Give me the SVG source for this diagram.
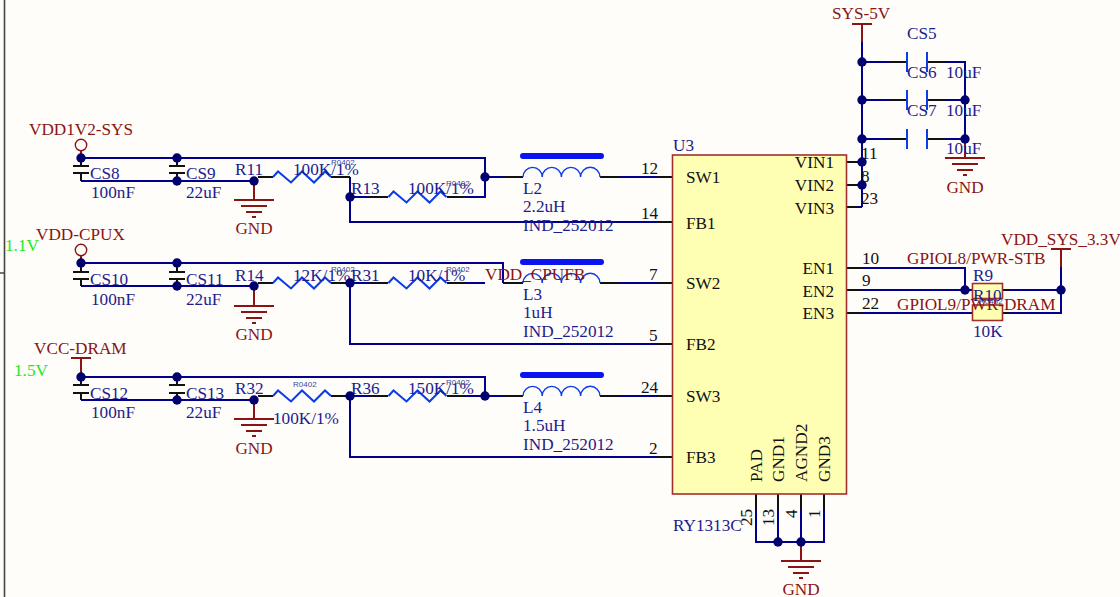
<svg xmlns="http://www.w3.org/2000/svg" width="1120" height="597" viewBox="0 0 1120 597">
<defs>
<style>
text{font-family:"Liberation Serif","Times New Roman",serif;font-size:17.2px}
.b{fill:#1c1c8e}.r{fill:#8a1414}.k{fill:#111}.g{fill:#22e822}
.s{font-family:"Liberation Sans",Arial,sans-serif;font-size:8px;fill:#3a4a96}
.w,.wk,.wr,.z{fill:none;stroke-linejoin:miter}
.w{stroke:#00008c;stroke-width:2}
.wk{stroke:#111;stroke-width:2}
.wr{stroke:#8a1414;stroke-width:2}
.z{stroke:#0a3ce8;stroke-width:2}
.j{fill:#00006e}
.bar{stroke:#0a14f0;stroke-width:6;stroke-linecap:round;fill:none}
.p{stroke:#0a3ce8;stroke-width:1.4;fill:none}
.res{fill:#ffffb4;stroke:#a03030;stroke-width:1.6}
</style>
<g id="gnd"><path class="wr" d="M-20 0H20M-13 6H13M-8 12H8M-2 17H2"/></g>
<g id="zig"><path class="z" d="M0 0L5-5.5L18 5.5L29-5.5L41 5.5L52-5.5L58 0"/></g>
<g id="coil"><path class="p" d="M0 0A9.6 9.6 0 0 1 19.2 0A9.6 9.6 0 0 1 38.4 0A9.6 9.6 0 0 1 57.6 0A9.6 9.6 0 0 1 77 0"/></g>
</defs>
<rect width="1120" height="597" fill="#fffdf9"/>
<g id="frame"><path d="M4.5 0V597M0 273H4" stroke="#444" stroke-width="1.6" fill="none"/></g>
<g id="connectors">
<path class="w" d="M81 158H485V197H465M485 177H504M350 197V222H657M350 177V197H370"/>
<path class="w" d="M81 181H254"/>
<path class="wk" d="M258 177H273M331 177H350M370 197H388M447 197H465M504 177H523M600 177H619M657 177H672M657 222H672"/>
<path class="w" d="M619 177H657"/>
<path class="w" d="M81 263H503V283M81 286H254M350 283V344H657M350 283H370M465 283H485M619 283H657"/>
<path class="wk" d="M258 283H273M331 283H350M370 283H388M447 283H465M503 283H523M600 283H619M657 283H672M657 344H672"/>
<path class="w" d="M81 377H485V396M81 400H254M350 396V457H657M345 396H370M465 396H504M619 396H657"/>
<path class="wk" d="M258 396H273M331 396H345M370 396H388M447 396H465M504 396H523M600 396H619M657 396H672M657 457H672"/>
<path class="wk" d="M81 158V166M73 166H89M73 173H89M81 173V181M177 158V166M169 166H185M169 173H185M177 173V181"/>
<path class="wk" d="M81 263V272M73 272H89M73 279H89M81 279V286M177 263V272M169 272H185M169 279H185M177 279V286"/>
<path class="wk" d="M81 377V385M73 385H89M73 393H89M81 393V400M177 377V385M169 385H185M169 393H185M177 393V400"/>
<path class="wr" d="M81 150V158M81 256V263M71 358H91M81 358V377M254 181V200M254 286V306M254 400V419"/>
<path class="wr" d="M852 24H872M862 24V42M965 139V158M801 542V561M1051 249H1071M1061 249V267"/>
<path class="w" d="M862 42V207M862 62H889M945 62H965V139M862 100H889M945 100H965M862 139H889M945 139H965"/>
<path class="wk" d="M889 62H907M927 62H945M889 100H907M927 100H945M889 139H907M927 139H945"/>
<path class="z" d="M907 52V72M927 52V72M907 90V110M927 90V110M907 129V149M927 129V149"/>
<path class="wk" d="M846 162H858M846 185H858M846 207H858M846 268H862M846 290H862M846 313H862M1003 290H1010M1003 313H1010"/>
<path class="w" d="M858 162H862M858 185H862M858 207H862M862 268H965V290M862 290H972M862 313H972M1010 290H1061M1010 313H1061V267"/>
<path class="wk" d="M756 494V510M778 494V510M801 494V510M824 494V510"/>
<path class="w" d="M756 510V542H824V510M778 510V542M801 510V542"/>
</g>
<g id="CS8"><text class="b" x="90" y="179">CS8</text><text class="b" x="91" y="198">100nF</text></g>
<g id="CS9"><text class="b" x="186" y="179">CS9</text><text class="b" x="186" y="198">22uF</text></g>
<g id="CS10"><text class="b" x="90" y="285">CS10</text><text class="b" x="91" y="305">100nF</text></g>
<g id="CS11"><text class="b" x="186" y="285">CS11</text><text class="b" x="186" y="305">22uF</text></g>
<g id="CS12"><text class="b" x="90" y="399">CS12</text><text class="b" x="91" y="418">100nF</text></g>
<g id="CS13"><text class="b" x="186" y="399">CS13</text><text class="b" x="186" y="418">22uF</text></g>
<g id="R11"><use href="#zig" x="273" y="177"/><text class="b" x="235" y="175">R11</text><text class="b" x="293" y="175">100K/1%</text><text class="s" x="331" y="165">R0402</text></g>
<g id="R13"><use href="#zig" x="388.500" y="197"/><text class="b" x="351" y="194">R13</text><text class="b" x="408" y="194">100K/1%</text><text class="s" x="446" y="186">R0402</text></g>
<g id="R14"><use href="#zig" x="273" y="283"/><text class="b" x="235" y="281">R14</text><text class="b" x="293" y="281">12K/1%</text><text class="s" x="331" y="272">R0402</text></g>
<g id="R31"><use href="#zig" x="388.500" y="283"/><text class="b" x="351" y="281">R31</text><text class="b" x="408" y="281">10K/1%</text><text class="s" x="446" y="272">R0402</text></g>
<g id="R32"><use href="#zig" x="273" y="396"/><text class="b" x="235" y="394">R32</text><text class="b" x="273" y="424">100K/1%</text><text class="s" x="293" y="387">R0402</text></g>
<g id="R36"><use href="#zig" x="388.500" y="396"/><text class="b" x="351" y="394">R36</text><text class="b" x="408" y="394">150K/1%</text><text class="s" x="446" y="385">R0402</text></g>
<g id="L2"><path class="bar" d="M523 156H601"/><use href="#coil" x="523" y="177"/><text class="b" x="523" y="194">L2</text><text class="b" x="523" y="212">2.2uH</text><text class="b" x="523" y="231">IND_252012</text></g>
<g id="L3"><path class="bar" d="M523 262H601"/><use href="#coil" x="523" y="283"/><text class="b" x="523" y="300">L3</text><text class="b" x="523" y="318">1uH</text><text class="b" x="523" y="337">IND_252012</text></g>
<g id="L4"><path class="bar" d="M523 375H601"/><use href="#coil" x="523" y="396"/><text class="b" x="523" y="413">L4</text><text class="b" x="523" y="431">1.5uH</text><text class="b" x="523" y="450">IND_252012</text></g>
<g id="U3">
<rect x="672.500" y="155" width="174" height="339" fill="#ffffb4" stroke="#a03030" stroke-width="1.6"/>
<text class="b" x="673" y="151">U3</text>
<text class="b" x="673" y="531">RY1313C</text>
<g class="lbl">
<text class="k" x="686" y="183">SW1</text><text class="k" x="686" y="229">FB1</text>
<text class="k" x="686" y="289">SW2</text><text class="k" x="686" y="350">FB2</text>
<text class="k" x="686" y="402">SW3</text><text class="k" x="686" y="463">FB3</text>
<text class="k" x="834" y="168" text-anchor="end">VIN1</text><text class="k" x="834" y="191" text-anchor="end">VIN2</text><text class="k" x="834" y="214" text-anchor="end">VIN3</text>
<text class="k" x="834" y="274" text-anchor="end">EN1</text><text class="k" x="834" y="297" text-anchor="end">EN2</text><text class="k" x="834" y="319" text-anchor="end">EN3</text>
<text class="k" transform="translate(762 482) rotate(-90)">PAD</text>
<text class="k" transform="translate(784 482) rotate(-90)">GND1</text>
<text class="k" transform="translate(807 482) rotate(-90)">AGND2</text>
<text class="k" transform="translate(830 482) rotate(-90)">GND3</text>
</g>
<g class="pins">
<text class="k" x="641" y="174">12</text><text class="k" x="641" y="219">14</text><text class="k" x="649" y="280">7</text><text class="k" x="649" y="341">5</text><text class="k" x="641" y="393">24</text><text class="k" x="649" y="454">2</text>
<text class="k" x="861" y="159">11</text><text class="k" x="861" y="182">8</text><text class="k" x="861" y="204">23</text>
<text class="k" x="862" y="264">10</text><text class="k" x="862" y="286">9</text><text class="k" x="862" y="309">22</text>
<text class="k" transform="translate(752 526) rotate(-90)">25</text>
<text class="k" transform="translate(774 526) rotate(-90)">13</text>
<text class="k" transform="translate(797 518) rotate(-90)">4</text>
<text class="k" transform="translate(820 518) rotate(-90)">1</text>
</g>
</g>
<g id="CS5"><text class="b" x="907" y="39">CS5</text><text class="b" x="946" y="78">10uF</text></g>
<g id="CS6"><text class="b" x="907" y="78">CS6</text><text class="b" x="946" y="116">10uF</text></g>
<g id="CS7"><text class="b" x="907" y="116">CS7</text><text class="b" x="946" y="154">10uF</text></g>
<g id="R9"><rect class="res" x="972.500" y="283.500" width="30" height="15"/><text class="b" x="973" y="281">R9</text></g>
<g id="R10"><rect class="res" x="972.500" y="305" width="30" height="15.500"/><text class="s" x="979" y="304">R0402</text><text class="b" x="973" y="301">R10</text><text class="b" x="973" y="337">10K</text></g>
<g id="power" class="r">
<use href="#gnd" x="254" y="200"/><use href="#gnd" x="254" y="306"/><use href="#gnd" x="254" y="419"/><use href="#gnd" x="965" y="158"/><use href="#gnd" x="801" y="561"/>
<text class="r" x="254" y="234" text-anchor="middle">GND</text>
<text class="r" x="254" y="340" text-anchor="middle">GND</text>
<text class="r" x="254" y="454" text-anchor="middle">GND</text>
<text class="r" x="965" y="193" text-anchor="middle">GND</text>
<text class="r" x="801" y="595" text-anchor="middle">GND</text>
<circle cx="81" cy="145" r="5.700" fill="none" stroke="#8a1414" stroke-width="1.400"/>
<circle cx="81" cy="250" r="5.700" fill="none" stroke="#8a1414" stroke-width="1.400"/>
<text class="r" x="29" y="135">VDD1V2-SYS</text>
<text class="r" x="36" y="240">VDD-CPUX</text>
<text class="r" x="34" y="354">VCC-DRAM</text>
<text class="r" x="832" y="19">SYS-5V</text>
<text class="r" x="1001" y="245">VDD_SYS_3.3V</text>
<text class="r" x="907" y="264">GPIOL8/PWR-STB</text>
<text class="r" x="897" y="310">GPIOL9/PWR-DRAM</text>
<text class="r" x="485" y="280">VDD_CPUFB</text>
</g>
<g id="notes"><text class="g" x="5" y="251">1.1V</text><text class="g" x="14" y="376">1.5V</text></g>
<g id="junctions" class="j">
<circle cx="81" cy="158" r="4.700"/><circle cx="177" cy="158" r="4.700"/><circle cx="177" cy="181" r="4.700"/><circle cx="254" cy="181" r="4.700"/><circle cx="350" cy="197" r="4.700"/><circle cx="485" cy="177" r="4.700"/>
<circle cx="81" cy="263" r="4.700"/><circle cx="177" cy="263" r="4.700"/><circle cx="177" cy="286" r="4.700"/><circle cx="254" cy="286" r="4.700"/><circle cx="350" cy="283" r="4.700"/>
<circle cx="81" cy="377" r="4.700"/><circle cx="177" cy="377" r="4.700"/><circle cx="177" cy="400" r="4.700"/><circle cx="254" cy="400" r="4.700"/><circle cx="350" cy="396" r="4.700"/><circle cx="485" cy="396" r="4.700"/>
<circle cx="862" cy="62" r="4.700"/><circle cx="862" cy="100" r="4.700"/><circle cx="862" cy="139" r="4.700"/><circle cx="862" cy="162" r="4.700"/><circle cx="862" cy="185" r="4.700"/><circle cx="965" cy="100" r="4.700"/><circle cx="965" cy="139" r="4.700"/>
<circle cx="965" cy="290" r="4.700"/><circle cx="1061" cy="290" r="4.700"/><circle cx="778" cy="542" r="4.700"/><circle cx="801" cy="542" r="4.700"/>
</g>
</svg>
